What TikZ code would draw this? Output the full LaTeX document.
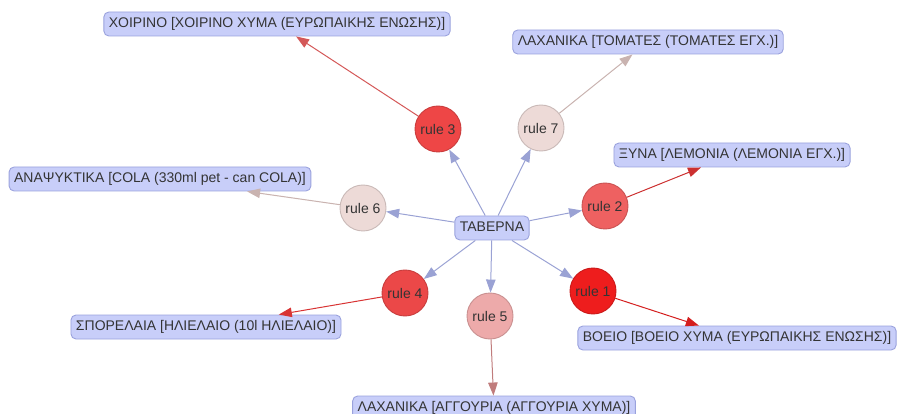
\documentclass[tikz,border=0pt]{standalone}
\usepackage{fontspec}
\setmainfont{Liberation Sans}
\usetikzlibrary{arrows.meta}

\definecolor{txt}{HTML}{343434}
\definecolor{boxfill}{HTML}{C8CEF9}
\definecolor{boxline}{HTML}{9AA2DD}
\definecolor{hubedge}{HTML}{9AA2D4}
\definecolor{rOne}{HTML}{EE1D1D}
\definecolor{rTwo}{HTML}{EE6161}
\definecolor{rThree}{HTML}{EE4646}
\definecolor{rFour}{HTML}{EB4848}
\definecolor{rFive}{HTML}{EDAAAA}
\definecolor{rPale}{HTML}{EDDAD7}
\definecolor{eOne}{HTML}{D41E1E}
\definecolor{eTwo}{HTML}{CC3030}
\definecolor{eThree}{HTML}{D45858}
\definecolor{eFour}{HTML}{D83434}
\definecolor{eFive}{HTML}{C07C7C}
\definecolor{ePale}{HTML}{C9B3B0}

\tikzset{
  every node/.style={font=\fontsize{14}{16}\selectfont, text=txt},
  item/.style={draw=boxline, fill=boxfill, rounded corners=5pt, line width=0.9pt,
    inner xsep=5pt, minimum height=24pt, text height=10pt, text depth=3pt},
  rulenode/.style={circle, minimum size=46pt, inner sep=0pt, line width=0.9pt},
  link/.style={line width=1pt, -{Triangle[length=13pt,width=9.5pt]}},
}

\begin{document}
\begin{tikzpicture}[x=1pt, y=-1pt]
\useasboundingbox (0,0) rectangle (897,414);

% hub
\node[item] (hub) at (492,228) {ΤΑΒΕΡΝΑ};

% rules
\node[rulenode, fill=rOne,   draw=rOne!85!black]   (r1) at (593,291) {rule 1};
\node[rulenode, fill=rTwo,   draw=rTwo!85!black]   (r2) at (605,206) {rule 2};
\node[rulenode, fill=rThree, draw=rThree!85!black] (r3) at (438,129) {rule 3};
\node[rulenode, fill=rFour,  draw=rFour!85!black]  (r4) at (405,293) {rule 4};
\node[rulenode, fill=rFive,  draw=rFive!85!black]  (r5) at (490,316) {rule 5};
\node[rulenode, fill=rPale,  draw=rPale!85!black]  (r6) at (363,208) {rule 6};
\node[rulenode, fill=rPale,  draw=rPale!85!black]  (r7) at (541,128) {rule 7};

% products
\node[item] (p3) at (277,24)  {ΧΟΙΡΙΝΟ [ΧΟΙΡΙΝΟ ΧΥΜΑ (ΕΥΡΩΠΑΙΚΗΣ ΕΝΩΣΗΣ)]};
\node[item] (p7) at (648,42)  {ΛΑΧΑΝΙΚΑ [ΤΟΜΑΤΕΣ (ΤΟΜΑΤΕΣ ΕΓΧ.)]};
\node[item] (p6) at (160,179) {ΑΝΑΨΥΚΤΙΚΑ [COLA (330ml pet - can COLA)]};
\node[item] (p2) at (732,155) {ΞΥΝΑ [ΛΕΜΟΝΙΑ (ΛΕΜΟΝΙΑ ΕΓΧ.)]};
\node[item] (p4) at (206,327) {ΣΠΟΡΕΛΑΙΑ [ΗΛΙΕΛΑΙΟ (10l ΗΛΙΕΛΑΙΟ)]};
\node[item] (p1) at (737,338) {ΒΟΕΙΟ [ΒΟΕΙΟ ΧΥΜΑ (ΕΥΡΩΠΑΙΚΗΣ ΕΝΩΣΗΣ)]};
\node[item] (p5) at (494,408) {ΛΑΧΑΝΙΚΑ [ΑΓΓΟΥΡΙΑ (ΑΓΓΟΥΡΙΑ ΧΥΜΑ)]};

% hub to rules
\foreach \r in {r1,r2,r3,r4,r5,r6,r7}
  \draw[link, hubedge] (hub) -- (\r);

% rules to products
\draw[link, eOne]   (r1) -- (p1);
\draw[link, eTwo]   (r2) -- (p2);
\draw[link, eThree] (r3) -- (p3);
\draw[link, eFour]  (r4) -- (p4);
\draw[link, eFive]  (r5) -- (p5);
\draw[link, ePale]  (r6) -- (p6);
\draw[link, ePale]  (r7) -- (p7);
\end{tikzpicture}
\end{document}
